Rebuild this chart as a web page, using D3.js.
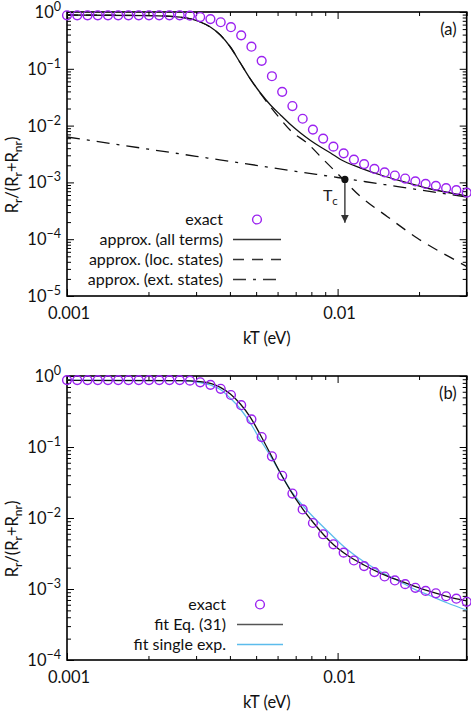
<!DOCTYPE html>
<html>
<head>
<meta charset="utf-8">
<script src="https://cdn.jsdelivr.net/npm/d3@7"></script>
<style>
body{margin:0;background:#fff;}
svg{font-family:Lato,"Open Sans",sans-serif;}
</style>
</head>
<body>
<div id="chart"></div>
<script>
// kT (eV) grid of the exact points
var kT = [0.001,0.001091,0.001191,0.001299,0.001417,0.001546,0.001687,0.001841,0.002009,0.002192,
  0.002391,0.002609,0.002847,0.003106,0.003389,0.003698,0.004035,0.004403,0.004804,0.005241,
  0.005719,0.006240,0.006808,0.007429,0.008106,0.008844,0.009650,0.01053,0.01149,0.01253,
  0.01368,0.01492,0.01628,0.01777,0.01938,0.02115,0.02308,0.02518,0.02747,0.03];
var exact = [0.875,0.875,0.875,0.875,0.875,0.875,0.875,0.875,0.875,0.875,
  0.875,0.875,0.86,0.815,0.75,0.66,0.54,0.388,0.245,0.138,
  0.074,0.0393,0.0221,0.0132,0.0085,0.0059,0.00426,0.00325,0.00252,0.0021,
  0.00173,0.0015,0.00132,0.00117,0.00104,0.00094,0.00087,0.00079,0.00073,0.00066];

// panel (a) approximations
var allX = [0.001,0.002029,0.002621,0.003109,0.003385,0.003687,0.004015,0.004372,0.004762,0.005186,
  0.005648,0.006151,0.006698,0.007295,0.007943,0.00865,0.009419,0.01026,0.01217,0.01443,0.0171,0.02208,0.03];
var allY = [0.885,0.866,0.81,0.667,0.544,0.394,0.242,0.1265,0.0661,0.0375,
  0.0231,0.0154,0.01045,0.0074,0.00547,0.0042,0.0033,0.00253,0.00179,0.00135,0.00106,0.000765,0.00058];
var locX = [0.001,0.002029,0.002621,0.003109,0.003385,0.003687,0.004015,0.004372,0.004762,0.005186,
  0.005648,0.006151,0.006698,0.007723,0.008896,0.009975,0.01217,0.01528,0.01973,0.02855,0.03];
var locY = [0.885,0.866,0.81,0.667,0.544,0.394,0.242,0.1265,0.0658,0.0368,
  0.0215,0.013,0.0082,0.0049,0.00248,0.00144,0.000561,0.000249,0.000104,0.0000377,0.000033];
var extX = [0.001,0.002,0.003,0.005,0.007,0.01,0.015,0.02,0.03];
var extY = [0.0063,0.00385,0.00288,0.002,0.00157,0.00122,0.00091,0.00074,0.00055];
var Tc = {x:0.01064, y:0.00113, yEnd:0.000195};

// panel (b) fits
var fitX = [0.001,0.002621,0.003109,0.003687,0.004015,0.004372,0.004762,0.005186,0.005648,0.006151,
  0.006698,0.007295,0.00817,0.008898,0.00969,0.01086,0.01252,0.01443,0.01664,0.01916,0.0221,0.02549,0.03];
var fitY = [0.87,0.86,0.831,0.693,0.558,0.403,0.262,0.1475,0.0796,0.0426,
  0.0243,0.01477,0.00843,0.00577,0.00417,0.00299,0.00218,0.00166,0.00134,0.0011,0.000916,0.00078,0.000678];
var singleX = [0.001,0.002621,0.003109,0.003385,0.003687,0.004015,0.004372,0.004762,0.005186,0.005648,
  0.006151,0.006698,0.007295,0.00817,0.009419,0.01086,0.01252,0.01443,0.01664,0.01916,0.0221,0.02549,0.03];
var singleY = [0.865,0.86,0.81,0.747,0.645,0.485,0.343,0.216,0.1255,0.0747,
  0.0426,0.0248,0.01626,0.01016,0.00595,0.0036,0.00242,0.00175,0.00132,0.001,0.000797,0.000635,0.000506];

var xMajor = [0.001,0.01], xMajorLabels = ["0.001","0.01"];
var xMinor = [0.002,0.003,0.004,0.005,0.006,0.007,0.008,0.009,0.02,0.03];

var purple = "#9b22f0", sky = "#5cbcec";

var W = 471, H = 713;
var margin = {left:67, top:12};
var w = 399.7, h = 284;

var svg = d3.select("#chart").append("svg")
  .attr("width", W).attr("height", H);

var x = d3.scaleLog().domain([0.001,0.03]).range([0,w]);

function decadeTicks(lo, hi){
  var maj = [], minr = [];
  for (var e = lo; e <= hi; e++){
    maj.push(Math.pow(10,e));
    if (e < hi) for (var k = 2; k <= 9; k++) minr.push(k*Math.pow(10,e));
  }
  return {maj:maj, min:minr};
}

function drawPanel(top, expLo, tag){
  var g = svg.append("g").attr("transform", "translate(" + margin.left + "," + top + ")");
  var y = d3.scaleLog().domain([Math.pow(10,expLo),1]).range([h,0]);
  var yt = decadeTicks(expLo, 0);

  // ticks, all inward
  var axes = [
    [d3.axisBottom(x).tickValues(xMajor).tickSize(-7), "translate(0," + h + ")"],
    [d3.axisBottom(x).tickValues(xMinor).tickSize(-4), "translate(0," + h + ")"],
    [d3.axisTop(x).tickValues(xMajor).tickSize(-7), "translate(0,0)"],
    [d3.axisTop(x).tickValues(xMinor).tickSize(-4), "translate(0,0)"],
    [d3.axisLeft(y).tickValues(yt.maj).tickSize(-7), "translate(0,0)"],
    [d3.axisLeft(y).tickValues(yt.min).tickSize(-4), "translate(0,0)"],
    [d3.axisRight(y).tickValues(yt.maj).tickSize(-7), "translate(" + w + ",0)"],
    [d3.axisRight(y).tickValues(yt.min).tickSize(-4), "translate(" + w + ",0)"]
  ];
  axes.forEach(function(a){
    var ax = g.append("g").attr("transform", a[1]).call(a[0].tickFormat(""));
    ax.select(".domain").remove();
    ax.selectAll("line").attr("stroke", "#000").attr("stroke-width", 1);
  });

  // frame
  g.append("rect").attr("width", w).attr("height", h)
    .attr("fill", "none").attr("stroke", "#000").attr("stroke-width", 1.6);

  // tick labels
  g.selectAll(".xl").data(xMajor).enter().append("text")
    .attr("x", function(d){ return x(d) + 2; }).attr("y", h + 23)
    .attr("text-anchor", "middle").attr("font-size", 16.5).attr("fill", "#111")
    .text(function(d,i){ return xMajorLabels[i]; });
  var yl = g.selectAll(".yl").data(yt.maj).enter().append("text")
    .attr("x", -6).attr("y", function(d){ return y(d) + 6; })
    .attr("text-anchor", "end").attr("font-size", 16.5).attr("fill", "#111");
  yl.append("tspan").text("10");
  yl.append("tspan").attr("dy", -7).attr("font-size", 12.5)
    .text(function(d){ var e = Math.round(Math.log10(d)); return e < 0 ? "\u2212" + (-e) : e; });

  // axis titles
  g.append("text").attr("x", w/2).attr("y", h + 48)
    .attr("text-anchor", "middle").attr("font-size", 16.5).attr("fill", "#111")
    .text("kT (eV)");
  var yt2 = g.append("text").attr("transform", "translate(-49," + (h/2 + 21) + ") rotate(-90)")
    .attr("text-anchor", "middle").attr("font-size", 16.5).attr("fill", "#111");
  yt2.append("tspan").text("R");
  yt2.append("tspan").attr("dy", 4).attr("font-size", 12).text("r");
  yt2.append("tspan").attr("dy", -4).text("/(R");
  yt2.append("tspan").attr("dy", 4).attr("font-size", 12).text("r");
  yt2.append("tspan").attr("dy", -4).text("+R");
  yt2.append("tspan").attr("dy", 4).attr("font-size", 12).text("nr");
  yt2.append("tspan").attr("dy", -4).text(")");

  g.append("text").attr("x", w - 10).attr("y", 23)
    .attr("text-anchor", "end").attr("font-size", 16.5).attr("fill", "#111")
    .text(tag);

  return {g:g, y:y};
}

function curve(p, xs, ys, color, dash, sw){
  var line = d3.line()
    .x(function(d){ return x(d[0]); })
    .y(function(d){ return p.y(d[1]); })
    .curve(d3.curveMonotoneX);
  p.g.append("path").datum(xs.map(function(v,i){ return [v, ys[i]]; }))
    .attr("d", line).attr("fill", "none").attr("stroke", color)
    .attr("stroke-width", sw || 1.3).attr("stroke-dasharray", dash || null);
}

function points(p){
  p.g.selectAll(".pt").data(kT).enter().append("circle")
    .attr("cx", function(d){ return x(d); })
    .attr("cy", function(d,i){ return p.y(exact[i]); })
    .attr("r", 4.4).attr("fill", "none").attr("stroke", purple).attr("stroke-width", 1.4);
}

function legend(p, rows, textRight, baseY, x0, x1){
  rows.forEach(function(r, i){
    var yy = baseY + i*20;
    p.g.append("text").attr("x", textRight).attr("y", yy)
      .attr("text-anchor", "end").attr("font-size", 16).attr("fill", "#111").text(r.label);
    if (r.type === "pt") {
      p.g.append("circle").attr("cx", (x0 + x1)/2).attr("cy", yy - 5.5).attr("r", 4.4)
        .attr("fill", "none").attr("stroke", purple).attr("stroke-width", 1.4);
    } else {
      p.g.append("line").attr("x1", x0).attr("x2", x1).attr("y1", yy - 5.5).attr("y2", yy - 5.5)
        .attr("stroke", r.color).attr("stroke-width", 1.6).attr("stroke-dasharray", r.dash || null);
    }
  });
}

// ---- panel (a)
var pa = drawPanel(margin.top, -5, "(a)");
curve(pa, extX, extY, "#111", "13,7,3,7");
curve(pa, locX, locY, "#111", "11,8");
curve(pa, allX, allY, "#111", null);
points(pa);
// T_c marker
pa.g.append("defs").append("marker").attr("id", "arr")
  .attr("viewBox", "0 0 10 10").attr("refX", 10).attr("refY", 5)
  .attr("markerWidth", 8).attr("markerHeight", 8).attr("markerUnits", "userSpaceOnUse")
  .attr("orient", "auto")
  .append("path").attr("d", "M0,0L10,5L0,10Z").attr("fill", "#333");
pa.g.append("line").attr("x1", x(Tc.x)).attr("x2", x(Tc.x))
  .attr("y1", pa.y(Tc.y)).attr("y2", pa.y(Tc.yEnd))
  .attr("stroke", "#444").attr("stroke-width", 1.5).attr("marker-end", "url(#arr)");
pa.g.append("circle").attr("cx", x(Tc.x)).attr("cy", pa.y(Tc.y)).attr("r", 3.6).attr("fill", "#111");
var tct = pa.g.append("text").attr("x", x(Tc.x) - 22).attr("y", pa.y(Tc.y) + 22)
  .attr("font-size", 16).attr("fill", "#222");
tct.append("tspan").text("T");
tct.append("tspan").attr("dy", 4).attr("font-size", 11.5).text("c");
legend(pa, [
  {label:"exact", type:"pt"},
  {label:"approx. (all terms)", color:"#333"},
  {label:"approx. (loc. states)", color:"#333", dash:"11,8"},
  {label:"approx. (ext. states)", color:"#333", dash:"13,7,3,7"}
], 156, 213, 166, 214);

// ---- panel (b)
var pb = drawPanel(margin.top + 364, -4, "(b)");
curve(pb, singleX, singleY, sky, null);
curve(pb, fitX, fitY, "#111", null);
points(pb);
legend(pb, [
  {label:"exact", type:"pt"},
  {label:"fit Eq. (31)", color:"#555"},
  {label:"fit single exp.", color:sky}
], 159, 234, 170, 216);
</script>
</body>
</html>
